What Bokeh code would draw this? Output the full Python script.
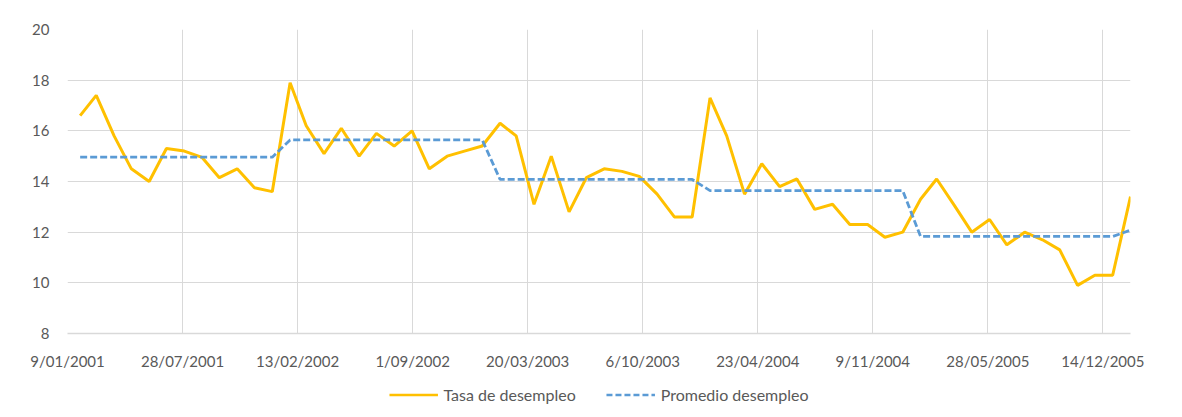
from datetime import datetime
import pandas as pd
from bokeh.plotting import figure
from bokeh.layouts import column
from bokeh.models import (ColumnDataSource, Range1d, FixedTicker, Legend, LegendItem)
from bokeh.embed import file_html
from bokeh.resources import INLINE

# ---- data ----
months = pd.date_range("2001-01-31", periods=61, freq="ME")

tasa = [16.6, 17.4, 15.8, 14.5, 14.0, 15.3, 15.2, 14.95, 14.15, 14.5, 13.75, 13.6,   # 2001
        17.9, 16.2, 15.1, 16.1, 15.0, 15.9, 15.4, 16.0, 14.5, 15.0, 15.2, 15.4,      # 2002
        16.3, 15.8, 13.1, 15.0, 12.8, 14.15, 14.5, 14.4, 14.2, 13.5, 12.6, 12.6,     # 2003
        17.3, 15.8, 13.5, 14.7, 13.8, 14.1, 12.9, 13.1, 12.3, 12.3, 11.8, 12.0,      # 2004
        13.3, 14.1, 13.05, 12.0, 12.5, 11.5, 12.0, 11.7, 11.3, 9.9, 10.3, 10.3,      # 2005
        13.4]                                                                         # 2006

promedio = [14.96, 14.96, 14.96, 14.96, 14.96, 14.96, 14.96, 14.96, 14.96, 14.96, 14.96, 14.96,
            15.64, 15.64, 15.64, 15.64, 15.64, 15.64, 15.64, 15.64, 15.64, 15.64, 15.64, 15.64,
            14.08, 14.08, 14.08, 14.08, 14.08, 14.08, 14.08, 14.08, 14.08, 14.08, 14.08, 14.08,
            13.64, 13.64, 13.64, 13.64, 13.64, 13.64, 13.64, 13.64, 13.64, 13.64, 13.64, 13.64,
            11.83, 11.83, 11.83, 11.83, 11.83, 11.83, 11.83, 11.83, 11.83, 11.83, 11.83, 11.83,
            12.08]

x_tick_labels = ["9/01/2001", "28/07/2001", "13/02/2002", "1/09/2002", "20/03/2003",
                 "6/10/2003", "23/04/2004", "9/11/2004", "28/05/2005", "14/12/2005"]
y_ticks = [8, 10, 12, 14, 16, 18, 20]

series_names = ["Tasa de desempleo", "Promedio desempleo"]

# ---- styles ----
FONT = "Lato"
TXT = "#595959"
GRID = "#d9d9d9"
YELLOW = "#FFC000"
BLUE = "#5B9BD5"

def to_ms(d):
    return (d - datetime(1970, 1, 1)).total_seconds() * 1000.0

tick_dates = [datetime.strptime(s, "%d/%m/%Y") for s in x_tick_labels]
tick_ms = [to_ms(d) for d in tick_dates]

src = ColumnDataSource(dict(x=list(months), tasa=tasa, prom=promedio))

# ---- main chart ----
p = figure(width=1166, height=372, x_axis_type="datetime",
           output_backend="svg", toolbar_location=None,
           x_range=Range1d(datetime(2001, 1, 9), datetime(2006, 1, 31)),
           y_range=Range1d(8, 20),
           min_border_left=67, min_border_right=36, min_border_top=29,
           min_border_bottom=39)
p.outline_line_color = None
p.background_fill_color = "white"
p.border_fill_color = "white"

p.line("x", "tasa", source=src, line_color=YELLOW, line_width=3)
p.line("x", "prom", source=src, line_color=BLUE, line_width=2.8, line_dash="7 3")

p.xaxis.ticker = FixedTicker(ticks=tick_ms)
p.xaxis.major_label_overrides = {t: s for t, s in zip(tick_ms, x_tick_labels)}
p.xaxis.axis_line_color = GRID
p.xaxis.axis_line_width = 1.5
p.xaxis.major_tick_line_color = None
p.xaxis.minor_tick_line_color = None
p.xaxis.major_label_standoff = 12
p.xaxis.major_label_text_font = FONT
p.xaxis.major_label_text_font_size = "15px"
p.xaxis.major_label_text_color = TXT

p.yaxis.ticker = FixedTicker(ticks=y_ticks)
p.yaxis.axis_line_color = None
p.yaxis.major_tick_line_color = None
p.yaxis.minor_tick_line_color = None
p.yaxis.major_label_standoff = 12
p.yaxis.major_label_text_font = FONT
p.yaxis.major_label_text_font_size = "15px"
p.yaxis.major_label_text_color = TXT

p.xgrid.grid_line_color = GRID
p.ygrid.grid_line_color = GRID
p.xgrid.ticker = FixedTicker(ticks=tick_ms)
p.ygrid.ticker = FixedTicker(ticks=y_ticks)

# ---- legend strip (same series, drawn outside its visible range) ----
lg = figure(width=1166, height=44, output_backend="svg", toolbar_location=None,
            x_range=Range1d(0, 1), y_range=Range1d(0, 1),
            min_border_left=67, min_border_right=36, min_border_top=0,
            min_border_bottom=0)
lg.axis.visible = False
lg.grid.visible = False
lg.outline_line_color = None
lg.border_fill_color = "white"
lg.background_fill_color = "white"
l1 = lg.line("x", "tasa", source=src, line_color=YELLOW, line_width=2.5)
l2 = lg.line("x", "prom", source=src, line_color=BLUE, line_width=2.5, line_dash="6 3")

legend = Legend(items=[LegendItem(label=series_names[0], renderers=[l1]),
                       LegendItem(label=series_names[1], renderers=[l2])],
                orientation="horizontal", location="center",
                label_text_font=FONT, label_text_font_size="16px",
                label_text_color=TXT, glyph_width=49, glyph_height=16,
                spacing=30, label_standoff=6, border_line_color=None,
                background_fill_alpha=0, margin=0, padding=2)
lg.add_layout(legend, "center")

layout = column(p, lg, spacing=0)
open("out.html", "w").write(file_html(layout, INLINE))
